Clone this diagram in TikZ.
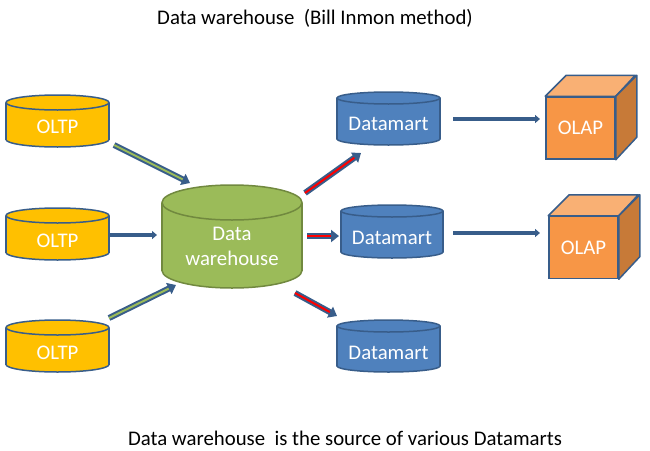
\documentclass[tikz,border=0pt]{standalone}
\usepackage{fontspec}
\setmainfont{Carlito}
\usetikzlibrary{arrows.meta}

\definecolor{edgeblue}{HTML}{385D8A}
\definecolor{oltpgold}{HTML}{FFC000}
\definecolor{dwgreen}{HTML}{9BBB59}
\definecolor{dwedge}{HTML}{71893F}
\definecolor{martblue}{HTML}{4F81BD}
\definecolor{olapfront}{HTML}{F79646}
\definecolor{olaptop}{HTML}{F9B074}
\definecolor{olapside}{HTML}{C77A38}

% #1 name, #2 centre x, #3 top, #4 bottom, #5 x radius, #6 y radius, #7 style, #8 text y, #9 text
\newcommand\drum[9]{%
	\pgfmathsetmacro\drumlow{#4-#6}%
	\pgfmathsetmacro\drumhigh{#3+#6}%
	\begin{scope}[#7]
		\filldraw (#2,\drumlow) ellipse ({#5} and {#6});
		\fill (#2-#5,\drumhigh) rectangle (#2+#5,\drumlow);
		\draw (#2-#5,\drumhigh) -- (#2-#5,\drumlow) (#2+#5,\drumhigh) -- (#2+#5,\drumlow);
		\filldraw (#2,\drumhigh) ellipse ({#5} and {#6});
	\end{scope}
	\node[drumtext] (#1) at (#2,#8) {#9};}

\begin{document}
\begin{tikzpicture}[x=1pt, y=-1pt, every node/.style={font=\fontsize{20.8}{25}\selectfont},
	oltpdrum/.style={draw=edgeblue, fill=oltpgold, line width=1.5pt},
	dwdrum/.style={draw=dwedge, fill=dwgreen, line width=1.5pt},
	martdrum/.style={draw=edgeblue, fill=martblue, line width=1.5pt},
	drumtext/.style={text=white, align=center, inner sep=0pt},
	cubefront/.style={draw=edgeblue, line width=1.5pt, fill=olapfront, text=white, minimum width=69pt, minimum height=62pt},
	pipe/.style={draw=edgeblue, line width=2pt, double=#1, double distance=2pt, -{Triangle[length=8pt,width=12pt]}},
	flat/.style={draw=edgeblue, line width=3.5pt, -{Triangle[length=5pt,width=8pt]}}]
	\useasboundingbox (0,0) rectangle (650,450);
	% titles
	\node (title) at (315,18) {Data warehouse\ \ (Bill Inmon method)};
	\node (caption) at (345,438) {Data warehouse\ \ is the source of various Datamarts};
	% sources
	\drum{oltp1}{57.5}{95}{147}{51.5}{7.5}{oltpdrum}{126.5}{OLTP}
	\drum{oltp2}{57.5}{208}{260}{51.5}{7.5}{oltpdrum}{241}{OLTP}
	\drum{oltp3}{57.5}{320}{372}{51.5}{7.5}{oltpdrum}{353}{OLTP}
	% warehouse
	\drum{dw}{232}{185}{288}{70}{17.5}{dwdrum}{246.5}{Data\\warehouse}
	% datamarts
	\drum{dm1}{388.5}{92}{145}{51.5}{6}{martdrum}{124}{Datamart}
	\drum{dm2}{392}{205}{258}{51}{6}{martdrum}{237.5}{Datamart}
	\drum{dm3}{388.5}{320}{372}{51.5}{6}{martdrum}{352.5}{Datamart}
	% cubes
	\foreach \i/\x/\y in {1/580.5/128, 2/583.5/247.5} {
		\node[cubefront] (olap\i) at (\x,\y) {OLAP};
		\filldraw[draw=edgeblue, line width=1.5pt, fill=olaptop, line join=round] (olap\i.north west) -- ++(21,-21) -- ++(69,0) -- (olap\i.north east) -- cycle;
		\filldraw[draw=edgeblue, line width=1.5pt, fill=olapside, line join=round] (olap\i.north east) -- ++(21,-21) -- ++(0,62) -- (olap\i.south east) -- cycle;
	}
	% arrow ends
	\coordinate (s1) at (114,145); \coordinate (e1) at (190,183);
	\coordinate (s2) at (110,235); \coordinate (e2) at (157,235);
	\coordinate (s3) at (109,318); \coordinate (e3) at (176,285);
	\coordinate (m1s) at (305,193); \coordinate (m1e) at (361,153);
	\coordinate (m2s) at (307,236); \coordinate (m2e) at (339,236);
	\coordinate (m3s) at (295,293); \coordinate (m3e) at (337,316);
	\coordinate (o1s) at (453,119); \coordinate (o1e) at (540,119);
	\coordinate (o2s) at (453,233); \coordinate (o2e) at (540,233);
	\draw[pipe=dwgreen] (s1) -- (e1);
	\draw[flat] (s2) -- (e2);
	\draw[pipe=dwgreen] (s3) -- (e3);
	\draw[pipe=red] (m1s) -- (m1e);
	\draw[pipe=red] (m2s) -- (m2e);
	\draw[pipe=red] (m3s) -- (m3e);
	\draw[flat] (o1s) -- (o1e);
	\draw[flat] (o2s) -- (o2e);
\end{tikzpicture}
\end{document}
